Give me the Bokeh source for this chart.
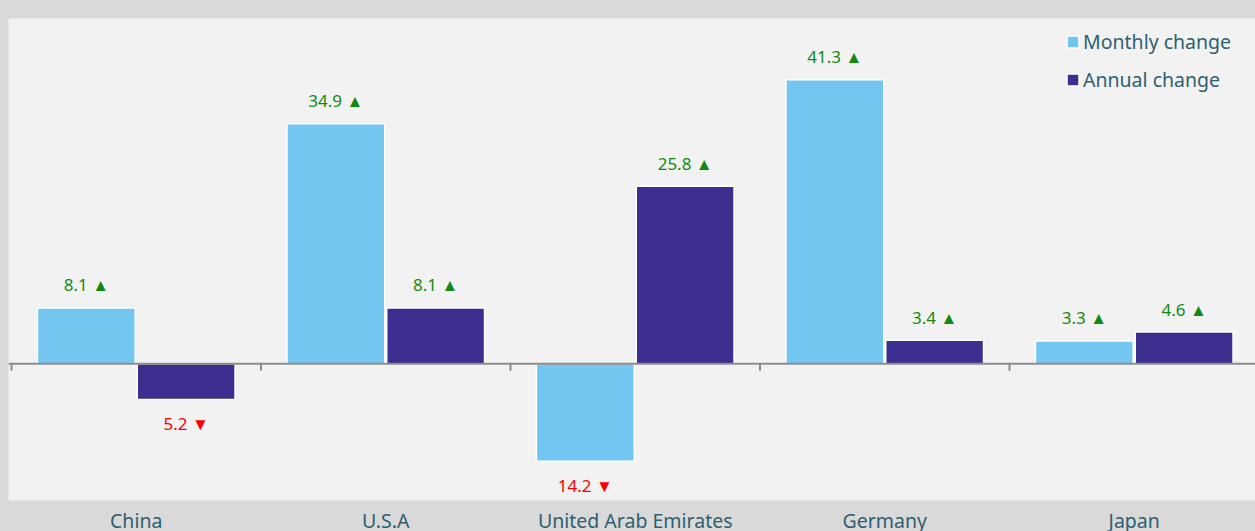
import numpy as np
from bokeh.plotting import figure
from bokeh.models import (ColumnDataSource, Range1d, FixedTicker, Span, Legend,
                          LegendItem, GlobalInlineStyleSheet)
from bokeh.core.properties import value
from bokeh.embed import file_html
from bokeh.resources import INLINE

categories = ["China", "U.S.A", "United Arab Emirates", "Germany", "Japan"]
monthly = [8.1, 34.9, -14.2, 41.3, 3.3]
annual = [-5.2, 8.1, 25.8, 3.4, 4.6]
series_names = ["Monthly change", "Annual change"]
series_colors = ["#73c6f0", "#3c2f8f"]

FONT = "Noto Sans"
TEXT_COLOR = "#2e6070"

p = figure(width=1255, height=536, output_backend="svg", toolbar_location=None,
           x_range=Range1d(-0.012, 4.986), y_range=Range1d(-19.9, 50.2),
           y_axis_location=None,
           min_border_left=8, min_border_right=0, min_border_top=18, min_border_bottom=0)
p.background_fill_color = "#f2f2f2"
p.border_fill_color = "#d9d9d9"
p.outline_line_color = None
p.grid.visible = False
p.stylesheets = [GlobalInlineStyleSheet(css="body { background-color: #d9d9d9; }")]

idx = np.arange(len(categories))
offsets = [-0.2, 0.2]
renderers = []
for vals, off, col in zip([monthly, annual], offsets, series_colors):
    src = ColumnDataSource(dict(x=idx + 0.5 + off, top=vals))
    r = p.vbar(x="x", top="top", bottom=0, width=0.392, source=src,
               fill_color=col, line_color="white", line_width=1.5)
    renderers.append(r)
    vals_arr = np.array(vals)
    lab = ColumnDataSource(dict(
        x=idx + 0.5 + off,
        y=vals_arr,
        text=[f"{abs(v):.1f} " + ("▲" if v >= 0 else "▼") for v in vals_arr],
        color=["#128a12" if v >= 0 else "#ff0000" for v in vals_arr],
        yoff=[-23 if v >= 0 else 24 for v in vals_arr],
    ))
    p.text(x="x", y="y", text="text", source=lab, text_color="color",
           y_offset="yoff", text_align="center", text_baseline="middle",
           text_font=value(FONT), text_font_size="17px")

zero = Span(location=0, dimension="width", line_color="#8c8c8c", line_width=2)
p.add_layout(zero)
p.ray(x=list(range(len(categories) + 1)), y=[0] * (len(categories) + 1),
      length=7, length_units="screen", angle=-np.pi / 2,
      line_color="#8c8c8c", line_width=2)

ticks = [i + 0.5 for i in range(len(categories))]
p.xaxis.ticker = FixedTicker(ticks=ticks)
p.xaxis.major_label_overrides = {t: c for t, c in zip(ticks, categories)}
p.xaxis.axis_line_color = None
p.xaxis.major_tick_line_color = None
p.xaxis.minor_tick_line_color = None
p.xaxis.major_label_text_font = FONT
p.xaxis.major_label_text_font_size = "19.5px"
p.xaxis.major_label_text_color = TEXT_COLOR
p.xaxis.major_label_standoff = 0

legend = Legend(items=[LegendItem(label=n, renderers=[r]) for n, r in zip(series_names, renderers)],
                location="top_right", background_fill_alpha=0, border_line_color=None,
                label_text_font=FONT, label_text_font_size="19.5px", label_text_color=TEXT_COLOR,
                glyph_width=15, glyph_height=15, label_standoff=3, spacing=11,
                padding=8, margin=10, label_width=162, label_height=24)
p.add_layout(legend)

open("out.html", "w").write(file_html(p, INLINE))
